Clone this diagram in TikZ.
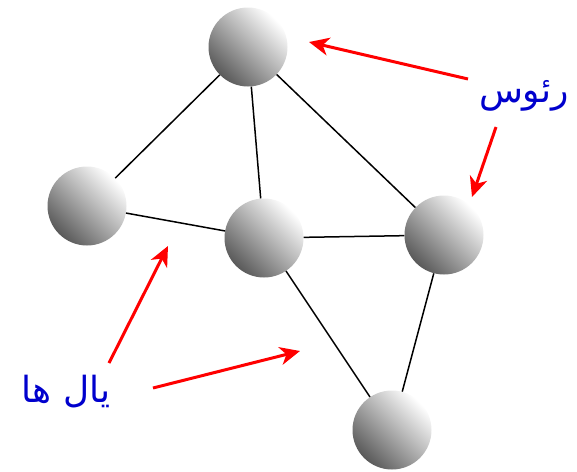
\documentclass[tikz,border=0pt]{standalone}
\usepackage{fontspec}
\newfontfamily\arabicfont[Script=Arabic]{DejaVu Sans}
\TeXXeTstate=1
\usetikzlibrary{arrows.meta}
\definecolor{lblblue}{RGB}{0,0,205}
\tikzset{
  vtx/.style={circle,minimum size=79pt,inner sep=0pt,top color=white,bottom color=black!65,shading angle=-45},
  edge/.style={draw=black,line width=1.5pt},
  callout/.style={draw=red,line width=3pt,-{Stealth[length=20pt,width=18pt,inset=6pt]}},
  lbl/.style={text=lblblue,font=\arabicfont\fontsize{36}{40}\selectfont}
}
\begin{document}
\begin{tikzpicture}[x=1pt,y=-1pt]
\useasboundingbox (0,0) rectangle (577,471);
\node[vtx] (A) at (248,47) {};
\node[vtx] (B) at (87,206) {};
\node[vtx] (C) at (264,238) {};
\node[vtx] (D) at (444,235) {};
\node[vtx] (E) at (392,430) {};
\draw[edge] (A) -- (B);
\draw[edge] (A) -- (C);
\draw[edge] (A) -- (D);
\draw[edge] (B) -- (C);
\draw[edge] (C) -- (D);
\draw[edge] (C) -- (E);
\draw[edge] (D) -- (E);
\node[lbl] (V) at (524,96) {\beginR رئوس\endR};
\node[lbl] (L) at (66,392) {\beginR یال ها\endR};
\coordinate (v1s) at (468,79);
\coordinate (v1e) at (309,42);
\coordinate (v2s) at (496,127);
\coordinate (v2e) at (472,197);
\coordinate (e1s) at (109,363);
\coordinate (e1e) at (168,246);
\coordinate (e2s) at (153,388);
\coordinate (e2e) at (300,351);
\draw[callout] (v1s) -- (v1e);
\draw[callout] (v2s) -- (v2e);
\draw[callout] (e1s) -- (e1e);
\draw[callout] (e2s) -- (e2e);
\end{tikzpicture}
\end{document}
